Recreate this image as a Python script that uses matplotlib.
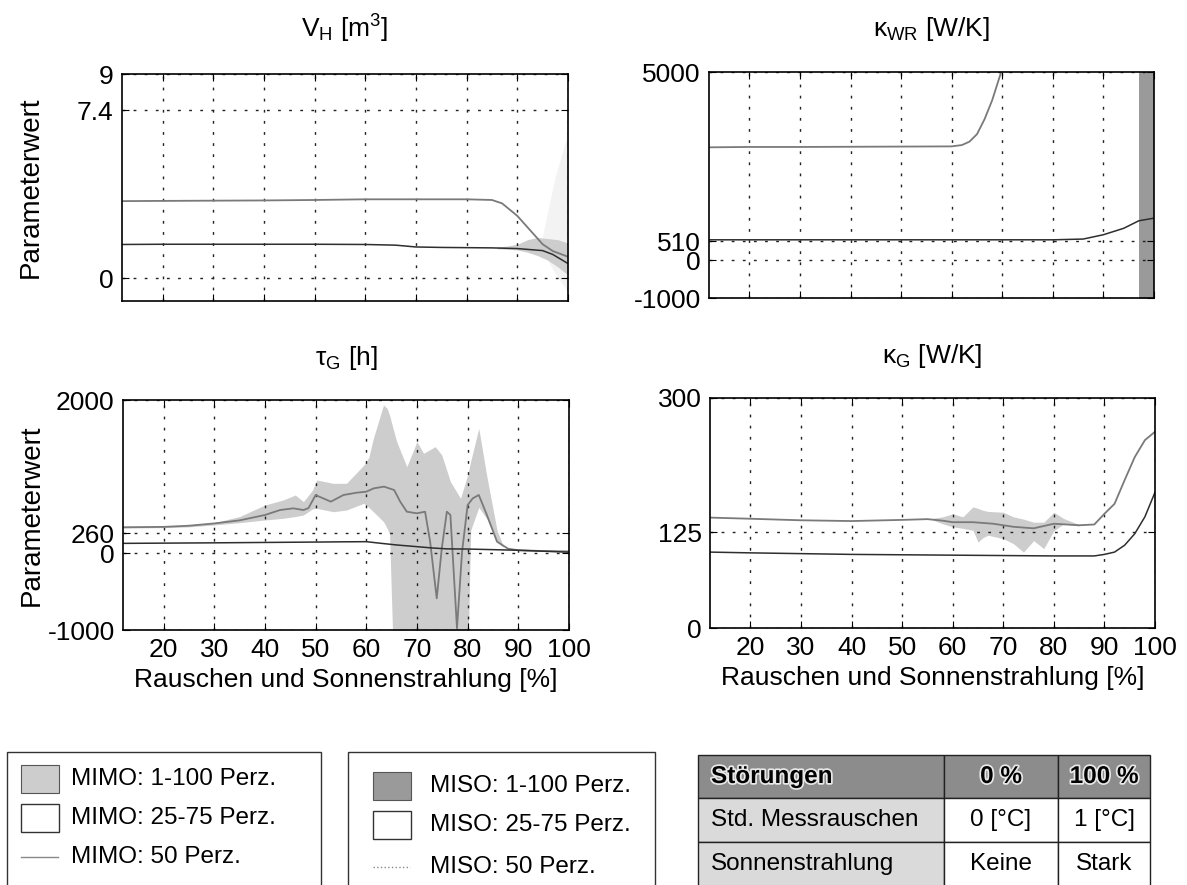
import matplotlib
matplotlib.use('Agg')
import matplotlib.pyplot as plt
import matplotlib.patheffects as pe
from matplotlib.patches import Rectangle
from matplotlib.lines import Line2D

plt.rcParams['font.family'] = ['Liberation Sans', 'DejaVu Sans']
plt.rcParams['mathtext.fontset'] = 'custom'
plt.rcParams['mathtext.rm'] = 'Liberation Sans'
plt.rcParams['mathtext.it'] = 'Liberation Sans:italic'
plt.rcParams['mathtext.bf'] = 'Liberation Sans:bold'

# x axis (noise + solar radiation in %)
x_ticks = [20, 30, 40, 50, 60, 70, 80, 90, 100]
x_lim = (12, 100)

# --- V_H [m^3] ---
vh_mimo_x = [12, 20, 30, 40, 50, 60, 70, 80, 85, 87, 90, 93, 95, 97, 100]
vh_mimo_y = [3.4, 3.41, 3.42, 3.43, 3.45, 3.48, 3.48, 3.48, 3.45, 3.3, 2.75, 2.0, 1.5, 1.2, 0.95]
vh_miso_x = [12, 20, 30, 40, 50, 60, 66, 70, 75, 80, 85, 90, 95, 97, 100]
vh_miso_y = [1.49, 1.5, 1.5, 1.5, 1.5, 1.49, 1.46, 1.38, 1.36, 1.35, 1.34, 1.31, 1.22, 1.05, 0.65]
vh_band_x = [86, 88, 90, 92, 94, 96, 98, 100]
vh_band_lo = [1.3, 1.28, 1.25, 1.15, 1.0, 0.8, 0.5, 0.15]
vh_band_hi = [1.38, 1.42, 1.5, 1.7, 1.8, 1.75, 1.7, 1.55]
vh_faint_x = [95, 97.5, 100]
vh_faint_lo = [1.2, 0.2, -0.6]
vh_faint_hi = [1.9, 4.5, 6.4]

# --- kappa_WR [W/K] ---
kwr_mimo_x = [12, 20, 30, 40, 50, 60, 62, 63.5, 65, 66.5, 68, 69.3, 70.5, 72]
kwr_mimo_y = [3000, 3010, 3010, 3015, 3020, 3025, 3060, 3150, 3350, 3750, 4250, 4800, 5300, 6000]
kwr_miso_x = [12, 20, 30, 40, 50, 60, 70, 80, 86, 90, 94, 97, 100]
kwr_miso_y = [545, 545, 545, 545, 545, 545, 545, 545, 565, 680, 850, 1050, 1120]
kwr_band_x = [97, 100]
kwr_band_lo = [-3000, -3000]
kwr_band_hi = [8000, 8000]

# --- tau_G [h] ---
tg_mimo_x = [12, 20, 25, 30, 35, 40, 43, 45.6, 47.6, 48.6, 50, 53, 55.5, 58, 60, 61.5, 63.5,
             65.5, 66.7, 68, 70, 71.6, 72.6, 73.9, 74.9, 75.9, 76.6, 77.9, 78.9, 80, 81,
             82.2, 83.8, 85.8, 88, 90, 95, 100]
tg_mimo_y = [340, 345, 360, 390, 430, 500, 565, 587, 565, 590, 760, 674, 761, 790, 804, 848, 870,
             826, 674, 543, 522, 543, 152, -587, 65, 543, 500, -978, 22, 630, 717,
             761, 500, 152, 60, 40, 30, 25]
tg_band_x = [12, 20, 25, 30, 35, 40, 43.6, 46, 47.6, 49.4, 50.2, 53.5, 56.1, 59.5, 60.5, 61.4,
             63.4, 64.1, 64.6, 65.4, 66, 68, 70, 71.3, 73.6, 74.9, 76.6, 78.6, 80.0, 80.6,
             82.2, 83.8, 85.8, 87]
tg_band_hi = [350, 355, 370, 400, 480, 630, 696, 761, 674, 826, 957, 913, 913, 1150, 1250, 1500,
              1935, 1891, 1800, 1600, 1457, 1130, 1457, 1304, 1391, 1283, 935, 717, 1022, 1200,
              1630, 1000, 300, 100]
tg_band_lo = [330, 335, 345, 370, 400, 435, 457, 480, 500, 580, 587, 543, 565, 652, 600, 543,
              413, 330, 250, -1500, -1500, -1500, -1500, -1500, -1500, -1500, -1500, -1500, -1500, 300,
              600, 450, 150, 80]
tg_miso_x = [12, 20, 30, 40, 50, 55, 60, 63, 66, 70, 73, 76, 80, 90, 100]
tg_miso_y = [130, 133, 137, 142, 147, 150, 152, 130, 109, 87, 70, 58, 56, 40, 15]

# --- kappa_G [W/K] ---
kg_mimo_x = [12, 20, 30, 40, 50, 55, 58, 60, 64, 68, 72, 76, 80, 85, 88, 90, 92, 94, 96, 98, 100]
kg_mimo_y = [144, 142.5, 140.5, 139.5, 141, 142, 140, 138, 138, 136, 132, 130, 136, 134, 135,
             149, 162, 193, 223, 245, 256]
kg_band_x = [56, 58, 60, 62, 64, 65, 66, 67, 70, 72, 74, 76, 78, 80, 82, 85]
kg_band_hi = [143, 145, 149, 145, 158, 156, 153.5, 152, 151, 145, 142, 138, 138, 151, 142.6, 135]
kg_band_lo = [141, 136, 132, 130, 127.4, 112, 118, 121, 116.5, 110, 99, 114, 103.5, 127, 136, 133]
kg_miso_x = [12, 20, 40, 60, 80, 88, 90, 92, 94, 96, 98, 100]
kg_miso_y = [99, 98, 96, 95, 94, 94, 96, 99, 108, 123, 145, 177]

titles = ['V$_\\mathregular{H}$ [m$^\\mathregular{3}$]', 'κ$_\\mathregular{WR}$ [W/K]',
          'τ$_\\mathregular{G}$ [h]', 'κ$_\\mathregular{G}$ [W/K]']
y_lims = [(-1, 9), (-1000, 5000), (-1000, 2000), (0, 300)]
y_ticks = [[0, 7.4, 9], [-1000, 0, 510, 5000], [-1000, 0, 260, 2000], [0, 125, 300]]
y_ticklabels = [['0', '7.4', '9'], ['-1000', '0', '510', '5000'],
                ['-1000', '0', '260', '2000'], ['0', '125', '300']]

legend_mimo = ['MIMO: 1-100 Perz.', 'MIMO: 25-75 Perz.', 'MIMO: 50 Perz.']
legend_miso = ['MISO: 1-100 Perz.', 'MISO: 25-75 Perz.', 'MISO: 50 Perz.']
table_header = ['Störungen', '0 %', '100 %']
table_rows = [['Std. Messrauschen', '0 [°C]', '1 [°C]'],
              ['Sonnenstrahlung', 'Keine', 'Stark']]

C_MIMO_BAND = '#cdcdcd'
C_MISO_BAND = '#9a9a9a'
C_MIMO_LINE = '#7a7a7a'
C_MISO_LINE = '#2e2e2e'

W, H = 1187, 885
fig = plt.figure(figsize=(W / 100, H / 100), dpi=100)


def px_axes(x0, x1, y0, y1):
    return fig.add_axes([x0 / W, 1 - y1 / H, (x1 - x0) / W, (y1 - y0) / H])


boxes = [(122, 568, 74, 301), (709, 1154, 72, 298), (123, 569, 400, 630), (710, 1155, 398, 628)]
axes = [px_axes(*b) for b in boxes]

FS = 19
for i, ax in enumerate(axes):
    ax.set_xlim(*x_lim)
    ax.set_ylim(*y_lims[i])
    ax.set_xticks(x_ticks)
    ax.set_yticks(y_ticks[i])
    ax.set_yticklabels(y_ticklabels[i])
    ax.grid(True, color='#222222', linestyle=(0, (2, 6)), linewidth=1.0)
    ax.tick_params(direction='in', length=5, top=True, right=True, labelsize=FS, pad=6)
    if i < 2:
        ax.tick_params(labelbottom=False)
    else:
        ax.set_xlabel('Rauschen und Sonnenstrahlung [%]', fontsize=FS, labelpad=4)
    if i % 2 == 0:
        ax.set_ylabel('Parameterwert', fontsize=FS + 1)
        ax.yaxis.set_label_coords(-0.176, 0.5)
    for s in ax.spines.values():
        s.set_linewidth(1.2)
    ax.set_title(titles[i], fontsize=FS, pad=26 if i < 2 else 25)

ax = axes[0]
ax.fill_between(vh_faint_x, vh_faint_lo, vh_faint_hi, color='#f3f3f3', lw=0)
ax.fill_between(vh_band_x, vh_band_lo, vh_band_hi, color=C_MIMO_BAND, lw=0)
ax.plot(vh_mimo_x, vh_mimo_y, color=C_MIMO_LINE, lw=1.3)
ax.plot(vh_miso_x, vh_miso_y, color=C_MISO_LINE, lw=1.1)

ax = axes[1]
ax.fill_between(kwr_band_x, kwr_band_lo, kwr_band_hi, color=C_MISO_BAND, lw=0)
ax.plot(kwr_mimo_x, kwr_mimo_y, color=C_MIMO_LINE, lw=1.3)
ax.plot(kwr_miso_x, kwr_miso_y, color=C_MISO_LINE, lw=1.1)

ax = axes[2]
ax.fill_between(tg_band_x, tg_band_lo, tg_band_hi, color=C_MIMO_BAND, lw=0)
ax.plot(tg_mimo_x, tg_mimo_y, color=C_MIMO_LINE, lw=1.3)
ax.plot(tg_miso_x, tg_miso_y, color=C_MISO_LINE, lw=1.1)

ax = axes[3]
ax.fill_between(kg_band_x, kg_band_lo, kg_band_hi, color=C_MIMO_BAND, lw=0)
ax.plot(kg_mimo_x, kg_mimo_y, color=C_MIMO_LINE, lw=1.3)
ax.plot(kg_miso_x, kg_miso_y, color=C_MISO_LINE, lw=1.1)

# overlay in pixel coordinates for the legend boxes and the table
ov = fig.add_axes([0, 0, 1, 1], facecolor='none')
ov.set_xlim(0, W)
ov.set_ylim(H, 0)
ov.axis('off')

LFS = 17.5


def legend_box(x0, x1, top, labels, band_color, line_style, rows_y, patch_x, text_x):
    ov.add_patch(Rectangle((x0, top), x1 - x0, 200, fill=False, ec='#333333', lw=1.0))
    ov.add_patch(Rectangle((patch_x, rows_y[0] - 14), 38, 28, fc=band_color, ec='#555555', lw=0.8))
    ov.add_patch(Rectangle((patch_x, rows_y[1] - 14), 38, 28, fc='white', ec='#333333', lw=1.0))
    ov.add_line(Line2D([patch_x, patch_x + 37], [rows_y[2], rows_y[2]], color='#888888',
                       lw=1.0, linestyle=line_style))
    for lab, yy in zip(labels, rows_y):
        ov.text(text_x, yy, lab, fontsize=LFS, va='center', ha='left')


legend_box(7, 321, 752, legend_mimo, C_MIMO_BAND, '-', [779, 818, 857], 21, 71)
legend_box(348, 655, 752, legend_miso, C_MISO_BAND, ':', [786, 825, 867], 373, 430)

# table
col_x = [698, 944, 1058, 1150]
row_y = [755, 798, 842, 886]
halo = [pe.withStroke(linewidth=2.5, foreground='#e8e8e8')]
for r in range(3):
    for c in range(3):
        if r == 0:
            fc = '#8c8c8c'
        elif c == 0:
            fc = '#dadada'
        else:
            fc = 'white'
        ov.add_patch(Rectangle((col_x[c], row_y[r]), col_x[c + 1] - col_x[c], row_y[r + 1] - row_y[r],
                               fc=fc, ec='#222222', lw=1.0))
        txt = table_header[c] if r == 0 else table_rows[r - 1][c]
        yy = (row_y[r] + row_y[r + 1]) / 2
        kw = dict(fontsize=LFS, va='center')
        if r == 0:
            kw.update(fontweight='bold', path_effects=halo)
        if c == 0:
            ov.text(col_x[0] + 13, yy, txt, ha='left', **kw)
        else:
            ov.text((col_x[c] + col_x[c + 1]) / 2, yy, txt, ha='center', **kw)

fig.savefig('out.png', dpi=100)
